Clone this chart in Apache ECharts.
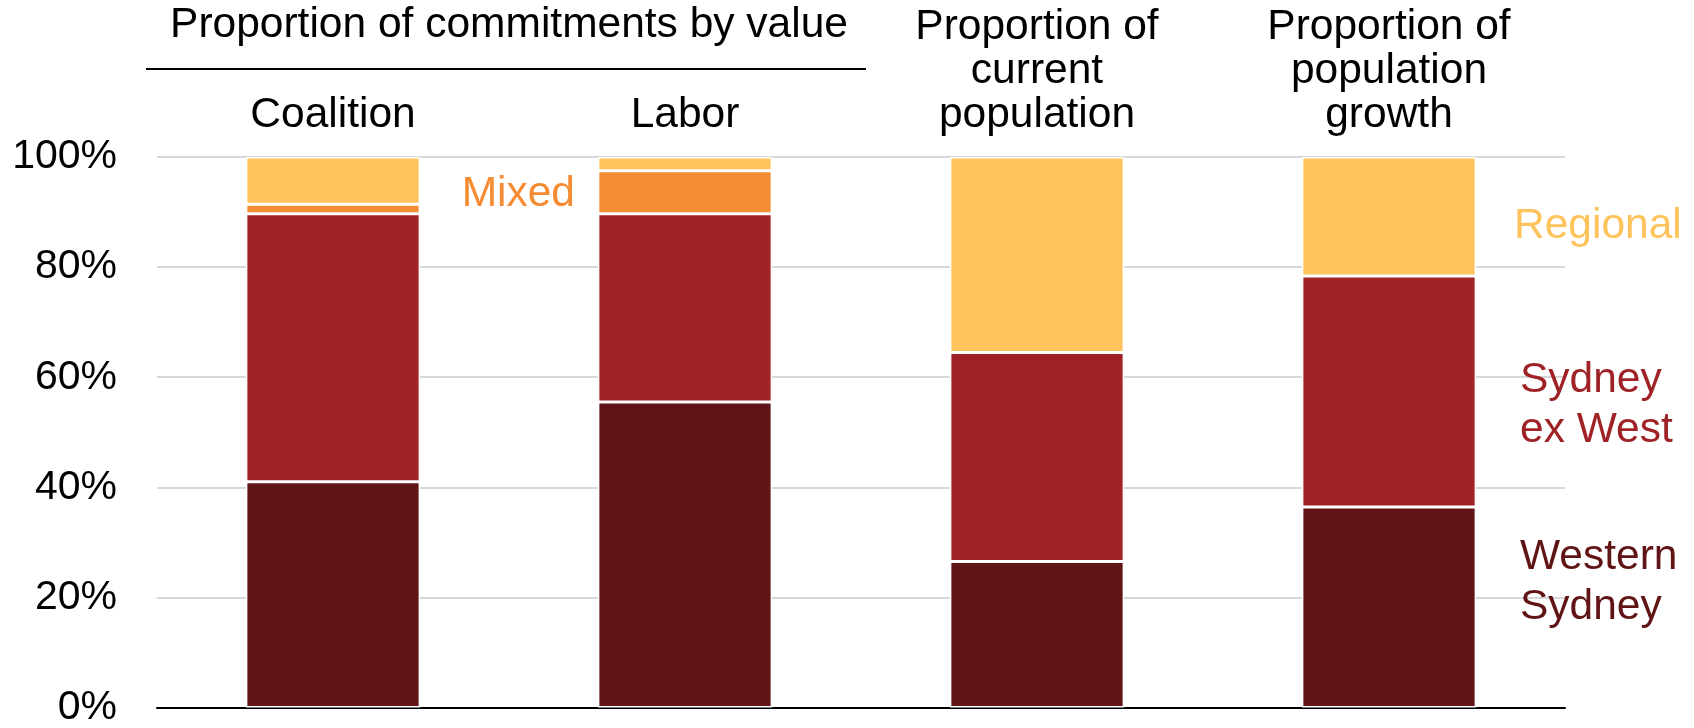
<!DOCTYPE html>
<html>
<head>
<meta charset="utf-8">
<script src="https://cdn.jsdelivr.net/npm/echarts@6/dist/echarts.min.js"></script>
<style>
html,body{margin:0;padding:0;background:#fff;}
#chart{width:1694px;height:728px;}
</style>
</head>
<body>
<div id="chart"></div>
<script>
const categories = ['Coalition', 'Labor', 'Proportion of\ncurrent\npopulation', 'Proportion of\npopulation\ngrowth'];
const westernSydney = [41.0, 55.5, 26.5, 36.4];
const sydneyExWest = [48.7, 34.2, 38.0, 42.0];
const mixed = [1.7, 7.8, '-', '-'];
const regional = [8.6, 2.5, 35.5, 21.6];
const groupHeader = 'Proportion of commitments by value';
const seriesNames = ['Western Sydney', 'Sydney ex West', 'Mixed', 'Regional'];
const seriesLabels = ['Western\nSydney', 'Sydney\nex West', 'Mixed', 'Regional'];
const yMin = 0, yMax = 100, yStep = 20;

const colors = ['#611415', '#9F2227', '#F58B33', '#FFC35B'];
const FONT = '"Liberation Sans", Arial, Helvetica, sans-serif';
const FS = 42.5;
const TFS = 41;

const chart = echarts.init(document.getElementById('chart'), null, {renderer: 'canvas'});

function barSeries(name, data, color) {
  return {
    name: name,
    type: 'bar',
    stack: 'total',
    data: data,
    barWidth: '49.5%',
    xAxisIndex: 0,
    itemStyle: {color: color, borderColor: '#ffffff', borderWidth: 1.5},
    emphasis: {disabled: true}
  };
}

const option = {
  animation: false,
  backgroundColor: '#ffffff',
  textStyle: {fontFamily: FONT},
  grid: {left: 157, right: 129, top: 157, bottom: 16},
  xAxis: [
    {
      type: 'category',
      data: categories,
      position: 'top',
      axisLine: {show: false},
      axisTick: {show: false},
      axisLabel: {
        interval: 0, fontSize: FS, lineHeight: 44, color: '#000',
        margin: 20, fontFamily: FONT
      }
    },
    {
      type: 'category',
      data: categories,
      position: 'bottom',
      axisLine: {show: true, lineStyle: {color: '#000', width: 2}},
      axisTick: {show: false},
      axisLabel: {show: false}
    }
  ],
  yAxis: {
    type: 'value',
    min: yMin, max: yMax, interval: yStep,
    axisLine: {show: false},
    axisTick: {show: false},
    axisLabel: {formatter: '{value}%', fontSize: TFS, color: '#000', margin: 40, fontFamily: FONT},
    splitLine: {lineStyle: {color: '#C8CACD', width: 1.5}}
  },
  series: [
    barSeries(seriesNames[0], westernSydney, colors[0]),
    barSeries(seriesNames[1], sydneyExWest, colors[1]),
    barSeries(seriesNames[2], mixed, colors[2]),
    barSeries(seriesNames[3], regional, colors[3])
  ]
};
chart.setOption(option);

// Group header centred over the first two categories
const x0 = chart.convertToPixel({xAxisIndex: 0}, categories[0]);
const x1 = chart.convertToPixel({xAxisIndex: 0}, categories[1]);
const mid = (x0 + x1) / 2;

function txt(text, x, y, color, align) {
  return {type: 'text', x: x, y: y, silent: true,
    style: {text: text, font: FS + 'px ' + FONT, fill: color, textAlign: align, textVerticalAlign: 'middle', lineHeight: 50}};
}

chart.setOption({
  graphic: [
    txt(groupHeader, mid, 25, '#000', 'center'),
    {type: 'line', silent: true, shape: {x1: 146, y1: 69, x2: 866, y2: 69}, style: {stroke: '#000', lineWidth: 2}},
    txt(seriesLabels[2], 575, 194, colors[2], 'right'),
    txt(seriesLabels[3], 1514, 226, colors[3], 'left'),
    txt(seriesLabels[1], 1520, 405, colors[1], 'left'),
    txt(seriesLabels[0], 1520, 582, colors[0], 'left')
  ]
});
</script>
</body>
</html>
